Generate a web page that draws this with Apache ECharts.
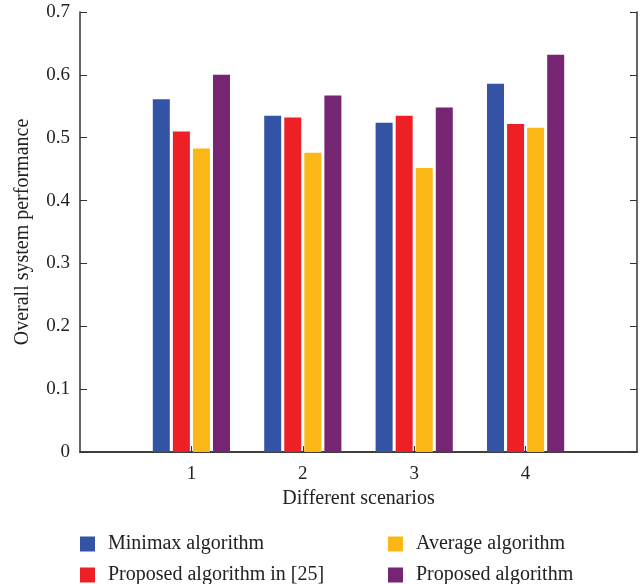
<!DOCTYPE html>
<html>
<head>
<meta charset="utf-8">
<script src="https://cdn.jsdelivr.net/npm/echarts@6/dist/echarts.min.js"></script>
<style>
  html, body { margin: 0; padding: 0; background: #fff; }
  #chart { width: 642px; height: 584px; }
</style>
</head>
<body>
<div id="chart"></div>
<script>
// x positions 0..5, bars only at 1..4
var scenarios = ['0', '1', '2', '3', '4', '5'];
var minimax = [null, 0.561, 0.535, 0.524, 0.586, null];
var proposed25 = [null, 0.510, 0.532, 0.535, 0.522, null];
var average = [null, 0.483, 0.476, 0.452, 0.516, null];
var proposed = [null, 0.600, 0.567, 0.548, 0.632, null];
var yTicks = [0, 0.1, 0.2, 0.3, 0.4, 0.5, 0.6, 0.7];

var font = '"Liberation Serif", "DejaVu Serif", serif';
var axisCol = '#333';

var chart = echarts.init(document.getElementById('chart'));

function bar(name, data, color) {
    return {
        name: name,
        type: 'bar',
        data: data,
        barWidth: 17,
        barGap: '18%',
        itemStyle: { color: color }
    }
}

function legend(names, left) {
    return {
        data: names,
        orient: 'vertical',
        left: left, top: 534,
        width: 260, height: 70,
        padding: 0,
        itemWidth: 15, itemHeight: 15, itemGap: 11,
        icon: 'rect',
        textStyle: { fontFamily: font, fontSize: 20, lineHeight: 20, color: '#222', padding: [0, 0, 0, 8] }
    }
}

chart.setOption({
    animation: false,
    textStyle: { fontFamily: font },
    grid: { left: 80, right: 5, top: 12, bottom: 132 },
    legend: [
        legend(['Minimax algorithm', 'Proposed algorithm in [25]'], 80),
        legend(['Average algorithm', 'Proposed algorithm'], 388)
    ],
    xAxis: [
        {
            type: 'category',
            data: scenarios,
            boundaryGap: false,
            name: 'Different scenarios',
            nameLocation: 'middle',
            nameGap: 37,
            nameTextStyle: { fontFamily: font, fontSize: 20, color: '#222' },
            axisLine: { lineStyle: { color: axisCol, width: 1.5 } },
            axisTick: {
                inside: true, length: 6,
                interval: function (i) { return i > 0 && i < 5; },
                lineStyle: { color: axisCol }
            },
            axisLabel: {
                fontFamily: font, fontSize: 19, color: '#222', margin: 13,
                interval: function (i) { return i > 0 && i < 5; }
            },
            splitLine: { show: false }
        },
        {
            type: 'category',
            data: scenarios,
            boundaryGap: false,
            position: 'top',
            axisLine: { lineStyle: { color: axisCol, width: 1.5 } },
            axisTick: { show: false },
            axisLabel: { show: false }
        }
    ],
    yAxis: [
        {
            type: 'value',
            min: 0, max: 0.7, interval: 0.1,
            name: 'Overall system performance',
            nameLocation: 'middle',
            nameGap: 47,
            nameTextStyle: { fontFamily: font, fontSize: 20, color: '#222' },
            axisLine: { show: true, lineStyle: { color: axisCol, width: 1.5 } },
            axisTick: { show: true, inside: true, length: 7, lineStyle: { color: axisCol } },
            axisLabel: {
                fontFamily: font, fontSize: 19, color: '#222', margin: 10,
                formatter: function (v) {
                    var t = yTicks.find(function (k) { return Math.abs(k - v) < 1e-9; });
                    return t === 0 ? '0' : t.toFixed(1);
                }
            },
            splitLine: { show: false }
        },
        {
            type: 'value',
            min: 0, max: 0.7, interval: 0.1,
            position: 'right',
            axisLine: { show: true, lineStyle: { color: axisCol, width: 1.5 } },
            axisTick: { show: true, inside: true, length: 7, lineStyle: { color: axisCol } },
            axisLabel: { show: false },
            splitLine: { show: false }
        }
    ],
    series: [
        bar('Minimax algorithm', minimax, '#3353A4'),
        bar('Proposed algorithm in [25]', proposed25, '#EE1F25'),
        bar('Average algorithm', average, '#FBB716'),
        bar('Proposed algorithm', proposed, '#762572')
    ]
});
</script>
</body>
</html>
